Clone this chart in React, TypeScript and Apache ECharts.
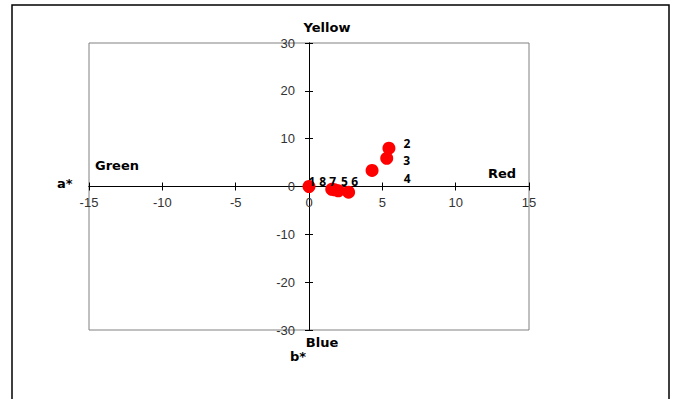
import React, { useEffect, useRef } from "react";
import * as echarts from "echarts";

// Data (a*, b* coordinates)
const categories = ["1", "2", "3", "4", "5", "6", "7", "8"];
const aValues = [0, 5.45, 5.3, 4.3, 2.0, 2.7, 1.75, 1.55];
const bValues = [0, 8.0, 5.9, 3.35, -0.9, -1.2, -0.7, -0.6];

const xMin = -15;
const xMax = 15;
const xStep = 5;
const yMin = -30;
const yMax = 30;
const yStep = 10;

// Label placement (pixel offsets from the point centre)
const labelOffsets: [number, number][] = [
  [3, -5],
  [18, -5],
  [20, 2],
  [35, 8],
  [6, -9],
  [6, -11],
  [-2, -8],
  [-9, -8],
];

const GRID_LEFT = 89;
const GRID_TOP = 43;
const GRID_W = 440;
const GRID_H = 287;
const X_SHIFT = -GRID_H / 2; // move x axis from the grid edge to b* = 0
const Y_SHIFT = -GRID_W / 2; // move y axis from the grid edge to a* = 0

const tickFont = { fontFamily: "Liberation Sans, Arial, sans-serif", fontSize: 13, color: "#333" };
const titleStyle = { fontFamily: "DejaVu Sans, sans-serif", fontSize: 13, fontWeight: "bold", fill: "#000" };

export default function App() {
  const ref = useRef<HTMLDivElement>(null);

  useEffect(() => {
    if (!ref.current) return;
    const chart = echarts.init(ref.current, null, { renderer: "svg" });

    const data = categories.map((c, i) => ({
      name: c,
      value: [aValues[i], bValues[i]],
      label: { offset: labelOffsets[i] },
    }));

    const baseX = {
      type: "value" as const,
      min: xMin,
      max: xMax,
      interval: xStep,
      offset: X_SHIFT,
      splitLine: { show: false },
      axisLine: { show: true, onZero: false, lineStyle: { color: "#000", width: 1 } },
      axisTick: { show: true, length: 4, lineStyle: { color: "#000" } },
    };
    const baseY = {
      type: "value" as const,
      min: yMin,
      max: yMax,
      interval: yStep,
      offset: Y_SHIFT,
      splitLine: { show: false },
      axisLine: { show: true, onZero: false, lineStyle: { color: "#000", width: 1 } },
      axisTick: { show: true, length: 4, lineStyle: { color: "#000" } },
    };

    chart.setOption({
      animation: false,
      backgroundColor: "#fff",
      grid: {
        left: GRID_LEFT,
        top: GRID_TOP,
        width: GRID_W,
        height: GRID_H,
        show: true,
        borderColor: "#808080",
        borderWidth: 1,
        backgroundColor: "transparent",
      },
      xAxis: [
        {
          ...baseX,
          position: "bottom",
          axisLabel: { ...tickFont, margin: 9, showMinLabel: true, showMaxLabel: true },
        },
        {
          ...baseX,
          position: "top",
          axisLabel: { show: false },
        },
      ],
      yAxis: [
        {
          ...baseY,
          position: "left",
          axisLabel: { ...tickFont, margin: 14, showMinLabel: true, showMaxLabel: true },
        },
        {
          ...baseY,
          position: "right",
          axisLabel: { show: false },
        },
      ],
      series: [
        {
          type: "scatter",
          xAxisIndex: 0,
          yAxisIndex: 0,
          symbol: "circle",
          symbolSize: 13,
          itemStyle: { color: "#ff0000", opacity: 1 },
          label: {
            show: true,
            position: "inside",
            formatter: "{b}",
            fontFamily: "Open Sans, sans-serif",
            fontWeight: "bold",
            fontSize: 12,
            color: "#000",
          },
          emphasis: { disabled: true },
          data,
        },
      ],
      graphic: [
        {
          type: "rect",
          shape: { x: 12, y: 5, width: 657, height: 410 },
          style: { fill: "none", stroke: "#000", lineWidth: 1.5 },
          silent: true,
        },
        { type: "text", x: 327, y: 27, style: { ...titleStyle, text: "Yellow", align: "center", verticalAlign: "middle" } },
        { type: "text", x: 95, y: 165, style: { ...titleStyle, text: "Green", align: "left", verticalAlign: "middle" } },
        { type: "text", x: 488, y: 173, style: { ...titleStyle, text: "Red", align: "left", verticalAlign: "middle" } },
        { type: "text", x: 322, y: 342, style: { ...titleStyle, text: "Blue", align: "center", verticalAlign: "middle" } },
        { type: "text", x: 57, y: 183, style: { ...titleStyle, text: "a*", align: "left", verticalAlign: "middle" } },
        { type: "text", x: 290, y: 356, style: { ...titleStyle, text: "b*", align: "left", verticalAlign: "middle" } },
      ],
    });

    return () => chart.dispose();
  }, []);

  return (
    <div
      ref={ref}
      style={{ position: "fixed", left: 0, top: 0, width: 676, height: 399, background: "#fff" }}
    />
  );
}
